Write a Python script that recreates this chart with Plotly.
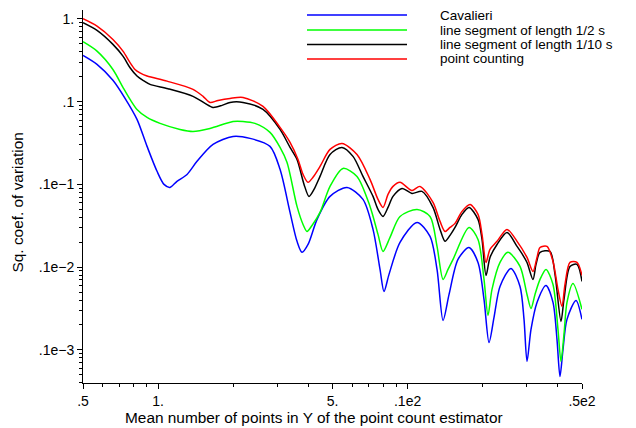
import plotly.graph_objects as go

# ---- data: squared coefficient of variation vs. mean number of points ----
cav_x = [0.5, 0.569, 0.659, 0.737, 0.823, 0.903, 0.99, 1.056, 1.116, 1.19, 1.306, 1.432,
         1.66, 1.996, 2.335, 2.809, 3.081, 3.379, 3.604, 3.775, 3.99, 4.335, 4.887,
         5.716, 6.625, 7.267, 7.752, 8.042, 8.423, 9.323, 10.91, 12.30, 13.12, 13.87,
         14.66, 15.92, 17.62, 19.15, 20.24, 21.20, 22.20, 23.46, 25.96, 28.22, 29.28,
         30.10, 31.23, 33.01, 35.87, 38.26, 39.69, 40.80, 41.95, 43.53, 47.30, 50.0]
cav_y = [0.362, 0.282, 0.181, 0.1095, 0.061, 0.0288, 0.0144, 0.0100, 0.0092, 0.0109,
         0.0132, 0.0190, 0.0304, 0.0380, 0.0360, 0.0288, 0.0152, 0.00459, 0.00205,
         0.00151, 0.00188, 0.00378, 0.00716, 0.0092, 0.00659, 0.00286, 0.000939,
         0.000509, 0.000818, 0.00199, 0.00347, 0.00235, 0.000939, 0.000227, 0.000468,
         0.00124, 0.00173, 0.00114, 0.000407, 0.000123, 0.000247, 0.000585, 0.000966,
         0.000585, 0.000234, 0.0000726, 0.000177, 0.000375, 0.000602, 0.000375,
         0.000134, 0.0000478, 0.000101, 0.000234, 0.000396, 0.000234]

half_x = [0.5, 0.569, 0.659, 0.723, 0.772, 0.823, 0.903, 1.018, 1.224, 1.380, 1.614,
          1.996, 2.189, 2.445, 2.809, 3.081, 3.287, 3.604, 3.81, 3.953, 4.139, 4.456,
          4.887, 5.509, 6.268, 7.069, 7.610, 7.969, 8.501, 9.323, 10.91, 12.30, 13.12,
          13.87, 14.52, 15.21, 17.62, 19.15, 20.24, 21.00, 21.79, 23.46, 25.26, 28.22,
          30.10, 31.23, 32.40, 33.94, 35.87, 38.26, 40.06, 41.18, 42.34, 43.53, 46.01,
          50.0]
half_y = [0.530, 0.408, 0.245, 0.149, 0.1065, 0.0806, 0.0645, 0.0546, 0.0462, 0.0437,
          0.0475, 0.0577, 0.0577, 0.0546, 0.0425, 0.0280, 0.0184, 0.00542, 0.00328,
          0.00270, 0.00319, 0.00459, 0.00946, 0.0156, 0.0125, 0.00542, 0.00249,
          0.00155, 0.00229, 0.00410, 0.00498, 0.00410, 0.00178, 0.000711, 0.000939,
          0.00124, 0.00302, 0.00216, 0.000711, 0.000261, 0.000538, 0.00114, 0.00151,
          0.00102, 0.000468, 0.000317, 0.000468, 0.000711, 0.000939, 0.000618,
          0.000177, 0.0000726, 0.000154, 0.000375, 0.000636, 0.000309]

tenth_x = [0.5, 0.569, 0.659, 0.723, 0.772, 0.823, 0.870, 0.928, 1.096, 1.380, 1.542,
           1.660, 1.804, 1.942, 2.189, 2.633, 3.081, 3.379, 3.604, 3.845, 4.026, 4.216,
           4.456, 4.887, 5.458, 6.041, 6.625, 7.267, 7.610, 7.969, 8.345, 8.739, 9.497,
           10.41, 11.42, 12.64, 13.49, 14.13, 14.79, 15.49, 16.52, 17.62, 19.15, 19.87,
           20.62, 21.39, 22.82, 25.02, 27.46, 29.01, 30.10, 31.81, 32.71, 33.94, 37.21,
           38.97, 41.18, 42.34, 44.76, 47.73, 50.0]
tenth_y = [0.900, 0.726, 0.492, 0.355, 0.257, 0.204, 0.1806, 0.1616, 0.1434, 0.116,
           0.0953, 0.0852, 0.0901, 0.0979, 0.0979, 0.0806, 0.0462, 0.0280, 0.0200,
           0.0100, 0.00716, 0.00870, 0.0125, 0.0230, 0.0280, 0.0218, 0.0125, 0.00716,
           0.00498, 0.00410, 0.00527, 0.00716, 0.00895, 0.00778, 0.00823, 0.00527,
           0.00286, 0.00205, 0.00242, 0.00302, 0.00434, 0.00527, 0.00378, 0.00216,
           0.000795, 0.00131, 0.00188, 0.00263, 0.00178, 0.00139, 0.00114, 0.000711,
           0.00108, 0.00151, 0.00155, 0.000818, 0.000221, 0.000407, 0.00102, 0.00108,
           0.000672]

pc_x = [0.5, 0.569, 0.659, 0.723, 0.772, 0.808, 0.846, 0.903, 1.086, 1.380, 1.514,
        1.614, 1.739, 1.942, 2.189, 2.633, 3.081, 3.379, 3.637, 3.81, 3.99, 4.177,
        4.456, 4.887, 5.458, 6.268, 7.069, 7.610, 7.969, 8.345, 8.739, 9.323, 10.41,
        11.21, 12.64, 13.49, 14.13, 14.79, 15.49, 16.52, 17.79, 19.15, 19.87, 20.62,
        21.39, 22.82, 25.02, 27.46, 30.10, 31.81, 33.01, 33.94, 36.20, 38.26, 40.06,
        41.57, 42.74, 44.76, 47.73, 50.0]
pc_y = [1.005, 0.818, 0.565, 0.408, 0.296, 0.245, 0.2226, 0.204, 0.177, 0.141, 0.116,
        0.0979, 0.1035, 0.1095, 0.1125, 0.0876, 0.0489, 0.0322, 0.0200, 0.0132,
        0.0106, 0.0122, 0.0165, 0.0265, 0.0313, 0.0230, 0.0115, 0.00659, 0.00527,
        0.00757, 0.00946, 0.0106, 0.00846, 0.00946, 0.00606, 0.00357, 0.00270,
        0.00302, 0.00338, 0.00472, 0.00573, 0.00434, 0.00249, 0.00114, 0.00164,
        0.00205, 0.00286, 0.00205, 0.00131, 0.000888, 0.00131, 0.00173, 0.00178,
        0.00117, 0.000538, 0.000335, 0.000618, 0.00114, 0.00114, 0.000795]

series_names = ["Cavalieri", "line segment of length 1/2 s",
                "line segment of length 1/10 s", "point counting"]
series_colors = ["#0000ff", "#00ff00", "#000000", "#ff0000"]

x_tick_vals = [0.5, 1, 5, 10, 50]
x_tick_text = [".5", "1.", "5.", ".1e2", ".5e2"]
y_tick_vals = [1e-4, 1e-3, 1e-2, 0.1, 1]
y_tick_text = [".1e\u22123", ".1e\u22122", ".1e\u22121", ".1", "1."]

x_title = "Mean number of points in Y of the point count estimator"
y_title = "Sq. coef. of variation"

# ---- layout geometry ----
W, H = 636, 428
ML, MR, MT, MB = 83, 54, 10, 45
PW, PH = W - ML - MR, H - MT - MB
FONT = "Liberation Sans, Arial, Helvetica, sans-serif"


def px(xp):
    return (xp - ML) / PW


def py(yp):
    return (H - MB - yp) / PH


fig = go.Figure()
all_x = [cav_x, half_x, tenth_x, pc_x]
all_y = [cav_y, half_y, tenth_y, pc_y]
for name, xs, ys, col in zip(series_names, all_x, all_y, series_colors):
    fig.add_trace(go.Scatter(
        x=xs, y=ys, mode="lines", name=name, showlegend=False,
        line=dict(color=col, width=1.5, shape="spline", smoothing=0.8),
        hoverinfo="skip"))

# hand-drawn legend: long line samples with text to the right
shapes = []
annotations = []
legend_rows = [15, 30, 44.5, 59]
for name, col, yrow in zip(series_names, series_colors, legend_rows):
    shapes.append(dict(type="line", xref="paper", yref="paper",
                       x0=px(307), x1=px(407), y0=py(yrow), y1=py(yrow),
                       line=dict(color=col, width=1.5)))
    annotations.append(dict(text=name, xref="paper", yref="paper",
                            x=px(438), y=py(yrow), xanchor="left", yanchor="middle",
                            showarrow=False,
                            font=dict(size=13.5, color="black", family=FONT)))

annotations.append(dict(text=x_title, xref="paper", yref="paper",
                        x=px(314), y=py(417), xanchor="center", yanchor="middle",
                        showarrow=False, font=dict(size=15.4, color="black", family=FONT)))
annotations.append(dict(text=y_title, xref="paper", yref="paper",
                        x=px(17), y=py(202.5), xanchor="center", yanchor="middle",
                        textangle=-90, showarrow=False,
                        font=dict(size=15.4, color="black", family=FONT)))

x_minor = [0.6, 0.7, 0.8, 0.9, 2, 3, 4, 6, 7, 8, 9, 20, 30, 40]
y_minor = [m * 10 ** e for e in range(-5, 1) for m in range(2, 10)
           if 4e-5 <= m * 10 ** e <= 1.2]

fig.update_layout(
    width=W, height=H,
    margin=dict(l=ML, r=MR, t=MT, b=MB, pad=0),
    paper_bgcolor="white", plot_bgcolor="white",
    font=dict(family=FONT, size=14, color="black"),
    shapes=shapes, annotations=annotations,
    xaxis=dict(type="log", range=[-0.30103, 1.69897],
               showline=True, linecolor="black", linewidth=1, mirror=False,
               showgrid=False, zeroline=False,
               tickmode="array", tickvals=x_tick_vals, ticktext=x_tick_text,
               ticks="outside", ticklen=5, tickwidth=1, tickcolor="black",
               tickfont=dict(size=14, family=FONT),
               minor=dict(tickmode="array", tickvals=x_minor, ticks="outside",
                          ticklen=3, tickwidth=1, tickcolor="black", showgrid=False)),
    yaxis=dict(type="log", range=[-4.40, 0.1076],
               showline=True, linecolor="black", linewidth=1, mirror=False,
               showgrid=False, zeroline=False,
               tickmode="array", tickvals=y_tick_vals, ticktext=y_tick_text,
               ticks="outside", ticklen=5, tickwidth=1, tickcolor="black",
               tickfont=dict(size=14, family=FONT),
               minor=dict(tickmode="array", tickvals=y_minor, ticks="outside",
                          ticklen=3, tickwidth=1, tickcolor="black", showgrid=False)),
)

fig.write_html("out.html")
